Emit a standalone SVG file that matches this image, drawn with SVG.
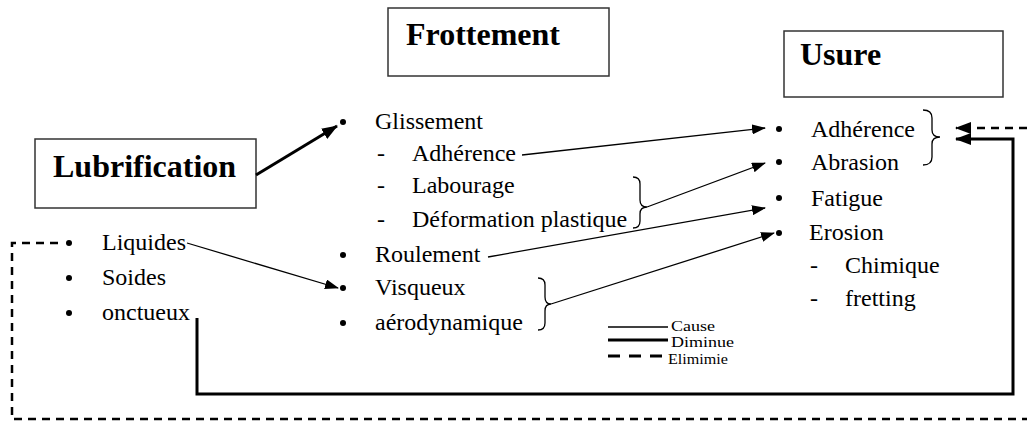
<svg xmlns="http://www.w3.org/2000/svg" width="1027" height="421" viewBox="0 0 1027 421">
<style>
.title{font-family:"Liberation Serif","Times New Roman",serif;font-weight:bold;font-size:32px;fill:#000}
.t{font-family:"Liberation Serif","Times New Roman",serif;font-size:24px;fill:#000}
.lg{font-family:"Liberation Serif","Times New Roman",serif;font-size:14px;fill:#000}
.box{fill:#fff;stroke:#333;stroke-width:1.5}
.thin{fill:none;stroke:#000;stroke-width:1.3}
.thick{fill:none;stroke:#000;stroke-width:3}
.dash{fill:none;stroke:#000;stroke-width:2.5;stroke-dasharray:8 6}
.brace{fill:none;stroke:#000;stroke-width:1.3}
</style>
<defs>
<marker id="ah" markerWidth="14" markerHeight="10" refX="13" refY="5" orient="auto" markerUnits="userSpaceOnUse">
<path d="M0,0 L14,5 L0,10 z" fill="#000"/>
</marker>
<marker id="ahb" markerWidth="16" markerHeight="12" refX="15" refY="6" orient="auto" markerUnits="userSpaceOnUse">
<path d="M0,0 L16,6 L0,12 z" fill="#000"/>
</marker>
</defs>
<rect width="1027" height="421" fill="#fff"/>

<g id="frottement">
<rect class="box" x="388" y="8" width="221" height="68"/>
<text class="title" x="406" y="45">Frottement</text>
</g>
<g id="usure">
<rect class="box" x="784" y="31" width="219" height="66"/>
<text class="title" x="800" y="65" font-size="31">Usure</text>
</g>
<g id="lubrification">
<rect class="box" x="35" y="139" width="221" height="69"/>
<text class="title" x="53" y="177">Lubrification</text>
</g>

<g id="frottement-list">
<circle cx="343" cy="122" r="3"/>
<text class="t" x="375" y="129">Glissement</text>
<text class="t" x="377" y="161">-</text>
<text class="t" x="412" y="161">Adhérence</text>
<text class="t" x="377" y="193">-</text>
<text class="t" x="412" y="193">Labourage</text>
<text class="t" x="377" y="227">-</text>
<text class="t" x="412" y="227">Déformation plastique</text>
<circle cx="343" cy="255" r="3"/>
<text class="t" x="375" y="262">Roulement</text>
<circle cx="343" cy="288" r="3"/>
<text class="t" x="375" y="295">Visqueux</text>
<circle cx="343" cy="323" r="3"/>
<text class="t" x="375" y="330">aérodynamique</text>
<path class="brace" d="M633,177 Q640,177 640,184 L640,200 Q640,207 647,207 Q640,207 640,214 L640,221 Q640,228 633,228"/>
<path class="brace" d="M538,278 Q545,278 545,285 L545,297 Q545,304 551,304 Q545,304 545,311 L545,323 Q545,330 538,330"/>
</g>

<g id="lubrifiant-list">
<circle cx="69" cy="243" r="3"/>
<text class="t" x="102" y="250">Liquides</text>
<circle cx="69" cy="278" r="3"/>
<text class="t" x="102" y="285">Soides</text>
<circle cx="69" cy="313" r="3"/>
<text class="t" x="102" y="320">onctueux</text>
</g>

<g id="usure-list">
<circle cx="779" cy="129" r="3"/>
<text class="t" x="811" y="137">Adhérence</text>
<circle cx="779" cy="162" r="3"/>
<text class="t" x="811" y="170">Abrasion</text>
<circle cx="779" cy="198" r="3"/>
<text class="t" x="811" y="206">Fatigue</text>
<circle cx="779" cy="233" r="3"/>
<text class="t" x="809" y="240">Erosion</text>
<text class="t" x="810" y="273">-</text>
<text class="t" x="845" y="273">Chimique</text>
<text class="t" x="810" y="306">-</text>
<text class="t" x="845" y="306">fretting</text>
<path class="brace" d="M923,110 Q932,110 932,118 L932,130 Q932,137 940,137 Q932,137 932,144 L932,157 Q932,165 923,165"/>
</g>

<g id="connectors">
<line x1="256" y1="175" x2="337" y2="126" stroke="#000" stroke-width="3" marker-end="url(#ahb)"/>
<line class="thin" x1="522" y1="155" x2="765" y2="128" marker-end="url(#ah)"/>
<line class="thin" x1="647" y1="207" x2="765" y2="163" marker-end="url(#ah)"/>
<line class="thin" x1="488" y1="257" x2="765" y2="208" marker-end="url(#ah)"/>
<line class="thin" x1="551" y1="304" x2="774" y2="233" marker-end="url(#ah)"/>
<line class="thin" x1="187" y1="243" x2="338" y2="288" marker-end="url(#ah)"/>
<path class="thick" d="M197,318 L197,394 L1013,394 L1013,139 L956,139" marker-end="url(#ahb)"/>
<path class="dash" d="M58,243 L12,243 L12,419 L1027,419"/>
<path class="dash" d="M1027,128 L956,128" marker-end="url(#ahb)"/>
</g>

<g id="legend">
<line x1="608" y1="327" x2="668" y2="327" stroke="#000" stroke-width="1.3"/>
<text class="lg" x="671" y="331" textLength="44" lengthAdjust="spacingAndGlyphs">Cause</text>
<line x1="608" y1="340" x2="668" y2="340" stroke="#000" stroke-width="3"/>
<text class="lg" x="671" y="347" textLength="63" lengthAdjust="spacingAndGlyphs">Diminue</text>
<line x1="608" y1="356" x2="664" y2="356" stroke="#000" stroke-width="3" stroke-dasharray="12 9"/>
<text class="lg" x="668" y="364" textLength="60" lengthAdjust="spacingAndGlyphs">Elimimie</text>
</g>
</svg>
